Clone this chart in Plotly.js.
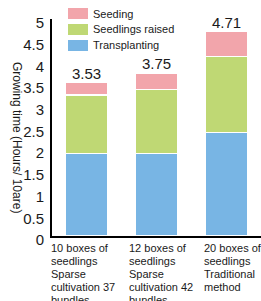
<!DOCTYPE html>
<html>
<head>
<meta charset="utf-8">
<script src="https://cdn.plot.ly/plotly-3.0.1.min.js"></script>
<style>html,body{margin:0;padding:0;background:#fff;}#chart{width:261px;height:301px;}</style>
</head>
<body>
<div id="chart"></div>
<script>
// ---- data ----
var categories = ["10 boxes of\nseedlings\nSparse\ncultivation 37\nbundles",
                  "12 boxes of\nseedlings\nSparse\ncultivation 42\nbundles",
                  "20 boxes of\nseedlings\nTraditional\nmethod"];
var transplanting = [1.91, 1.91, 2.39];
var seedlingsRaised = [1.34, 1.46, 1.75];
var seeding = [0.28, 0.38, 0.57];
var totals = [3.53, 3.75, 4.71];
var seriesNames = ["Seeding", "Seedlings raised", "Transplanting"];
var yTickVals = [0, 0.5, 1, 1.5, 2, 2.5, 3, 3.5, 4, 4.5, 5];
var yTitle = "Growing time (Hours/ 10are)";

// ---- styles ----
var colors = {"Seeding": "#f2a5ab", "Seedlings raised": "#bfd874", "Transplanting": "#78b5e4"};
var regular = "'Liberation Sans', Arial, sans-serif";
var ink = "#1a1a1a";
var labelShift = [-38, -30, -24];

var W = 261, H = 301, L = 52, R = 0, T = 19, B = 65;
var pw = W - L - R, ph = H - T - B;
function px(x) { return (x - L) / pw; }
function py(y) { return (H - B - y) / ph; }

var idx = categories.map(function (_, i) { return i; });
function barTrace(name, vals) {
  return {type: "bar", name: name, x: idx, y: vals, showlegend: false,
          marker: {color: colors[name], line: {color: "#ffffff", width: 1.2}},
          hoverinfo: "skip"};
}
var data = [barTrace("Transplanting", transplanting),
            barTrace("Seedlings raised", seedlingsRaised),
            barTrace("Seeding", seeding)];

var annotations = [];
var shapes = [];
// totals
totals.forEach(function (t, i) {
  annotations.push({x: i, y: t, xref: "x", yref: "y", text: t.toFixed(2), showarrow: false,
    yanchor: "bottom", yshift: -1, font: {family: regular, size: 15, color: ink}});
});
// category labels, left aligned, one annotation per line
categories.forEach(function (c, i) {
  c.split("\n").forEach(function (line, j) {
    annotations.push({x: i, y: 0, xref: "x", yref: "paper", text: line, showarrow: false,
      xanchor: "left", yanchor: "middle", xshift: labelShift[i], yshift: -12 - 13 * j,
      font: {family: regular, size: 11, color: ink}});
  });
});
// legend
seriesNames.forEach(function (n, k) {
  var top = 8 + 16 * k;
  shapes.push({type: "rect", xref: "paper", yref: "paper", x0: px(68), x1: px(88),
    y0: py(top + 11), y1: py(top), fillcolor: colors[n], line: {width: 0}});
  annotations.push({xref: "paper", yref: "paper", x: px(91), y: py(top + 5.5), text: n,
    showarrow: false, xanchor: "left", yanchor: "middle",
    font: {family: regular, size: 11, color: ink}});
});
// y title
annotations.push({xref: "paper", yref: "paper", x: px(17), y: py(137), text: yTitle,
  textangle: 90, showarrow: false, xanchor: "center", yanchor: "middle",
  font: {family: regular, size: 12, color: ink}});

var layout = {
  width: W, height: H, margin: {l: L, r: R, t: T, b: B, pad: 0},
  paper_bgcolor: "#fff", plot_bgcolor: "#fff",
  barmode: "stack", bargap: 0.39, showlegend: false,
  xaxis: {range: [-0.5, 2.5], showticklabels: false, ticks: "", showgrid: false,
          zeroline: false, showline: true, linecolor: "#000", linewidth: 2, fixedrange: true},
  yaxis: {range: [0, 5], tickvals: yTickVals, ticktext: yTickVals.map(String), ticks: "",
          showgrid: false, zeroline: false, showline: true, linecolor: "#000", linewidth: 2,
          tickfont: {family: regular, size: 15, color: ink}, ticklabelstandoff: 3,
          ticklabelshift: 4, fixedrange: true},
  annotations: annotations, shapes: shapes
};
Plotly.newPlot("chart", data, layout, {staticPlot: true, displayModeBar: false});
</script>
</body>
</html>
